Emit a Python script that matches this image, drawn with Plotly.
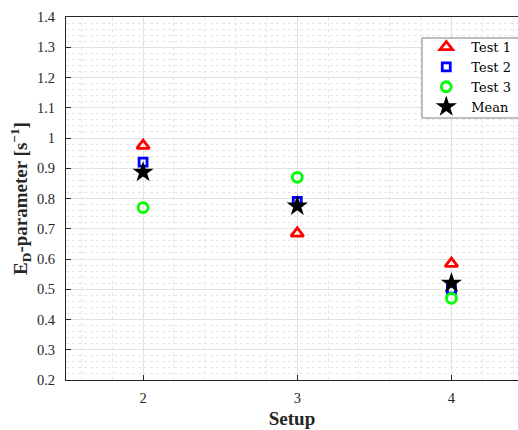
import plotly.graph_objects as go

# Measured E_D-parameter for each setup and test
setups = [2, 3, 4]
test1 = [0.975, 0.685, 0.585]
test2 = [0.92, 0.79, 0.50]
test3 = [0.77, 0.87, 0.47]
mean = [0.887, 0.775, 0.52]

FONT = "Liberation Serif"
LEGEND_FONT = "DejaVu Serif"
AXIS_COLOR = "#262626"

fig = go.Figure()
fig.add_trace(go.Scatter(
    x=setups, y=test1, mode="markers", name="Test 1",
    marker=dict(symbol="triangle-up-open", size=11, color="#ff0000",
                line=dict(width=2.8, color="#ff0000")),
))
fig.add_trace(go.Scatter(
    x=setups, y=test2, mode="markers", name="Test 2",
    marker=dict(symbol="square-open", size=8, color="#0000ff",
                line=dict(width=2.8, color="#0000ff")),
))
fig.add_trace(go.Scatter(
    x=setups, y=test3, mode="markers", name="Test 3",
    marker=dict(symbol="circle-open", size=10, color="#00ff00",
                line=dict(width=2.8, color="#00ff00")),
))
fig.add_trace(go.Scatter(
    x=setups, y=mean, mode="markers", name="Mean",
    marker=dict(symbol="star", size=16, color="#000000",
                line=dict(width=0)),
))

# Legend frame: runs off the right edge of the figure
fig.add_shape(
    type="rect", xref="paper", yref="paper",
    x0=0.7876, x1=1.1, y0=0.7218, y1=0.9421,
    fillcolor="white", line=dict(color="#7f7f7f", width=1), layer="above",
)

fig.update_layout(
    width=518, height=430,
    margin=dict(l=66, r=0, t=17, b=50, autoexpand=False),
    paper_bgcolor="white", plot_bgcolor="white",
    font=dict(family=FONT, size=14, color=AXIS_COLOR),
    showlegend=True,
    legend=dict(
        x=0.786, y=0.9587, xanchor="left", yanchor="top",
        bgcolor="rgba(0,0,0,0)", borderwidth=0,
        font=dict(family=LEGEND_FONT, size=13, color="#000000"),
        itemsizing="trace", itemwidth=40, tracegroupgap=0,
    ),
)

fig.update_xaxes(
    range=[1.5, 4.4317], tickmode="array", tickvals=setups,
    ticktext=[str(s) for s in setups],
    showline=True, linecolor=AXIS_COLOR, linewidth=1, mirror=True,
    ticks="inside", ticklen=5, tickcolor=AXIS_COLOR,
    showgrid=True, gridcolor="#e2e2e2", gridwidth=1,
    minor=dict(dtick=0.2, tick0=2, showgrid=True, gridcolor="#e6e6e6",
               griddash="dot", gridwidth=1),
    zeroline=False, ticklabelstandoff=5, automargin=False,
    title=dict(text="<b>Setup</b>", font=dict(family=FONT, size=19), standoff=6),
    tickfont=dict(family=FONT, size=14.5),
)

fig.update_yaxes(
    range=[0.2, 1.4],
    tickvals=[0.2, 0.3, 0.4, 0.5, 0.6, 0.7, 0.8, 0.9, 1.0, 1.1, 1.2, 1.3, 1.4],
    ticktext=["0.2", "0.3", "0.4", "0.5", "0.6", "0.7", "0.8", "0.9", "1",
              "1.1", "1.2", "1.3", "1.4"],
    showline=True, linecolor=AXIS_COLOR, linewidth=1,
    ticks="inside", ticklen=5, tickcolor=AXIS_COLOR,
    showgrid=True, gridcolor="#e2e2e2", gridwidth=1,
    minor=dict(dtick=0.02, tick0=0.2, showgrid=True, gridcolor="#e6e6e6",
               griddash="dot", gridwidth=1),
    zeroline=False, ticklabelstandoff=7, automargin=False,
    title=dict(text="<b>E<sub>D</sub>-parameter [s<sup>−1</sup>]</b>",
               font=dict(family=FONT, size=19), standoff=4),
    tickfont=dict(family=FONT, size=14.5),
)

fig.write_html("out.html")
